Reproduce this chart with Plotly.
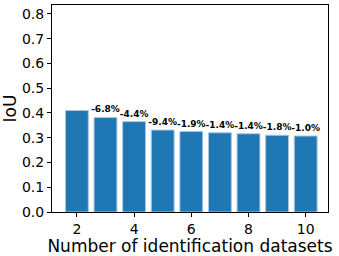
import plotly.graph_objects as go

datasets = [2, 3, 4, 5, 6, 7, 8, 9, 10]
iou = [0.410, 0.382, 0.365, 0.331, 0.325, 0.320, 0.316, 0.310, 0.307]
changes = ["", "-6.8%", "-4.4%", "-9.4%", "-1.9%", "-1.4%", "-1.4%", "-1.8%", "-1.0%"]
yticks = [0.0, 0.1, 0.2, 0.3, 0.4, 0.5, 0.6, 0.7, 0.8]
xticks = [2, 4, 6, 8, 10]

fig = go.Figure()
fig.add_trace(go.Bar(
    x=datasets, y=iou, width=0.8,
    marker=dict(color="#1f77b4", line=dict(color="#aac8e4", width=1)),
    text=changes, textposition="outside", cliponaxis=False, constraintext="none",
    textfont=dict(family="DejaVu Sans", size=9, color="black", weight="bold"),
))
fig.update_layout(
    width=339, height=256,
    margin=dict(l=52, r=11, t=5, b=44, autoexpand=False),
    paper_bgcolor="white", plot_bgcolor="white",
    showlegend=False,
    font=dict(family="DejaVu Sans", color="black"),
)
fig.update_xaxes(
    range=[1.13, 10.78], tickvals=xticks, ticktext=[str(t) for t in xticks],
    tickfont=dict(size=14), ticks="outside", ticklen=4, tickcolor="black",
    showline=True, linecolor="black", linewidth=1, mirror=True, showgrid=False,
    automargin=False,
    title=dict(text="Number of identification datasets", font=dict(size=17), standoff=0),
)
fig.update_yaxes(
    range=[0, 0.836], tickvals=yticks, ticktext=[f"{t:.1f}" for t in yticks],
    tickfont=dict(size=14), ticks="outside", ticklen=4, tickcolor="black",
    showline=True, linecolor="black", linewidth=1, mirror=True, showgrid=False, zeroline=False,
    automargin=False,
    title=dict(text="IoU", font=dict(size=17), standoff=4),
)
fig.write_html(
    "out.html",
    config={"displayModeBar": False},
    post_script="document.body.style.margin='0';document.body.style.overflow='hidden';",
)
